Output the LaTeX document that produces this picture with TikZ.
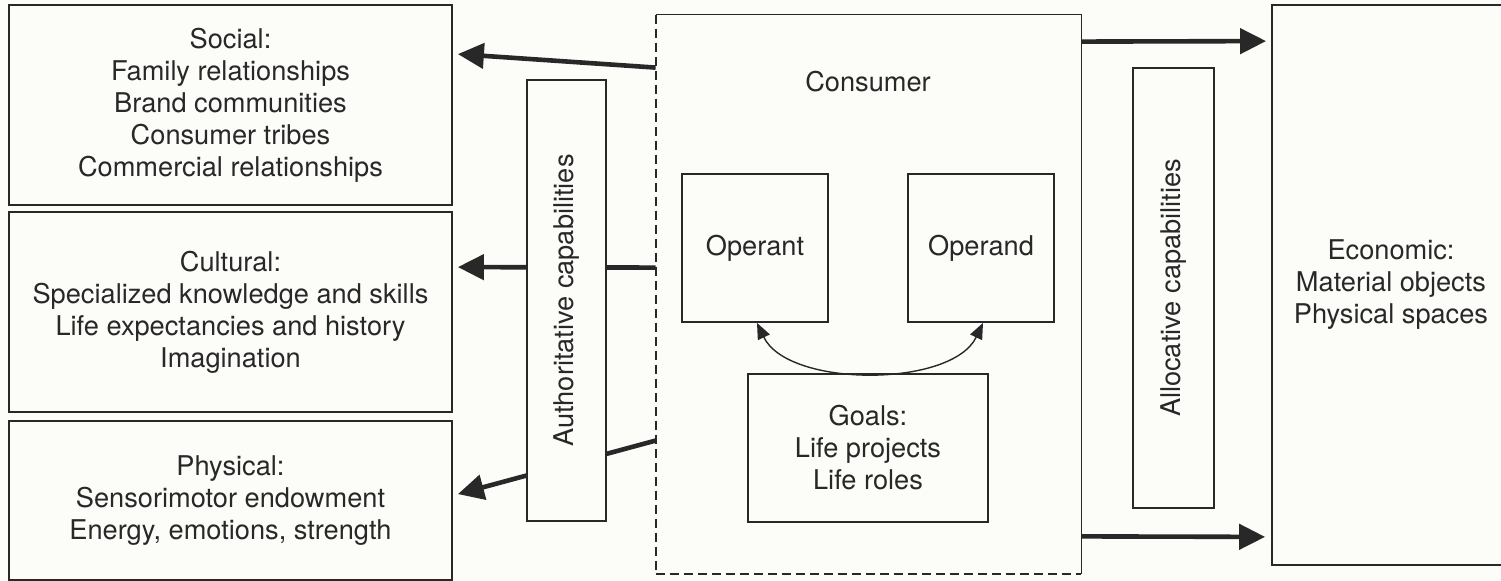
\documentclass[tikz,border=0pt]{standalone}
\usepackage{fontspec}
\setmainfont{TeX Gyre Heros}
\usetikzlibrary{arrows.meta,backgrounds}
\definecolor{ink}{RGB}{40,40,40}
\definecolor{paper}{RGB}{252,252,249}
\begin{document}
\begin{tikzpicture}[
  x=0.5pt, y=-0.5pt,
  txt/.style={text=ink, font=\fontsize{13.6}{16}\selectfont, align=center},
  box/.style={txt, draw=ink, line width=0.9pt, fill=paper, inner sep=0pt},
  flow/.style={draw=ink, line width=2.3pt, -{Triangle[length=13pt,width=12.5pt]}},
  link/.style={draw=ink, line width=0.7pt,
    {Triangle[length=8pt,width=6.5pt]}-{Triangle[length=8pt,width=6.5pt]}},
]
\useasboundingbox (0,0) rectangle (1501,581);

% resource boxes on the left
\node[box, minimum width=221.5pt, minimum height=100pt] (social) at (230.5,105)
  {Social:\\Family relationships\\Brand communities\\Consumer tribes\\Commercial relationships};
\node[box, minimum width=221.5pt, minimum height=100pt] (cultural) at (230.5,312)
  {Cultural:\\Specialized knowledge and skills\\Life expectancies and history\\Imagination};
\node[box, minimum width=221.5pt, minimum height=79.5pt] (physical) at (230.5,500.5)
  {Physical:\\Sensorimotor endowment\\Energy, emotions, strength};

% capability bars
\node[box, rotate=90, minimum width=220.5pt, minimum height=39.5pt] (auth) at (566.5,300.5)
  {Authoritative capabilities};
\node[box, rotate=90, minimum width=220pt, minimum height=40.5pt] (alloc) at (1173.5,288)
  {Allocative capabilities};

% consumer frame: solid top and right, dashed left and bottom
\node[minimum width=212.5pt, minimum height=279.5pt, inner sep=0pt] (consumer) at (868.5,294.5) {};
\draw[ink, line width=0.9pt, dash pattern=on 4.5pt off 2.5pt]
  (consumer.north west) -- (consumer.south west) -- (consumer.south east);
\draw[ink, line width=0.9pt]
  (consumer.north west) -- (consumer.north east) -- (consumer.south east);
\node[txt] (consumerlabel) at (868,82) {Consumer};

\node[box, minimum width=73pt, minimum height=74pt] (operant) at (755,248) {Operant};
\node[box, minimum width=73pt, minimum height=74pt] (operand) at (981,248) {Operand};
\node[box, minimum width=120pt, minimum height=74pt] (goals) at (868,448)
  {Goals:\\Life projects\\Life roles};

% economic resources on the right
\node[box, minimum width=119pt, minimum height=280pt] (economic) at (1391,285)
  {Economic:\\Material objects\\Physical spaces};

\draw[link] ([xshift=1]operant.south) .. controls +(31,65) and +(-31,65) .. ([xshift=1]operand.south);

\begin{scope}[on background layer]
  \fill[paper] (0,0) rectangle (1501,581);
  \draw[flow] ([shift={(0,53)}]consumer.north west) -- ([shift={(5,50)}]social.north east);
  \draw[flow] ([shift={(0,253)}]consumer.north west) -- ([shift={(5,56)}]cultural.north east);
  \draw[flow] ([shift={(0,426)}]consumer.north west) -- ([shift={(5,74)}]physical.north east);
  \draw[flow] ([shift={(0,27)}]consumer.north east) -- ([shift={(-5,37)}]economic.north west);
  \draw[flow] ([shift={(0,-38)}]consumer.south east) -- ([shift={(-6,-29)}]economic.south west);
\end{scope}
\end{tikzpicture}
\end{document}
